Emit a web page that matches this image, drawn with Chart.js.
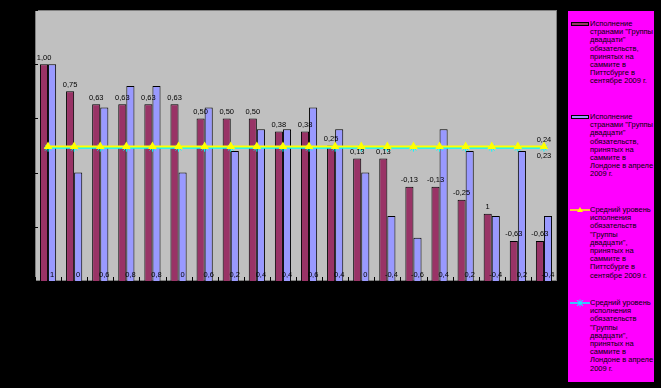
<!DOCTYPE html>
<html>
<head>
<meta charset="utf-8">
<script src="https://cdn.jsdelivr.net/npm/chart.js@4"></script>
<style>
  body { margin: 0; background: #000; }
  #wrap { position: relative; width: 661px; height: 388px; background: #000; }
  #legend {
    position: absolute; left: 568px; top: 11px; width: 86px; height: 371px;
    background: #ff00ff; font: 7.5px "Liberation Sans", Arial, sans-serif; color: #000;
  }
  .item { position: absolute; left: 0; width: 86px; }
  .item svg { position: absolute; left: 2px; top: 0; }
  .item .txt { position: absolute; left: 22px; top: 0; line-height: 8.2px; white-space: nowrap; }
</style>
</head>
<body>
<div id="wrap">
  <canvas id="g20Chart" width="661" height="388"></canvas>
  <div id="legend"></div>
</div>
<script>
// 20 categories (axis labels are black on black in the source, so not visible)
const categories = ["1", "2", "3", "4", "5", "6", "7", "8", "9", "10",
                    "11", "12", "13", "14", "15", "16", "17", "18", "19", "20"];

// Pittsburgh summit (September 2009) compliance
const pittsburgh = [1.00, 0.75, 0.63, 0.63, 0.63, 0.63, 0.50, 0.50, 0.50, 0.38,
                    0.38, 0.25, 0.13, 0.13, -0.13, -0.13, -0.25, -0.38, -0.63, -0.63];
const pittsburghLabels = ["1,00", "0,75", "0,63", "0,63", "0,63", "0,63", "0,50", "0,50", "0,50", "0,38",
                          "0,38", "0,25", "0,13", "0,13", "-0,13", "-0,13", "-0,25", "1", "-0,63", "-0,63"];

// London summit (April 2009) compliance
const london = [1, 0, 0.6, 0.8, 0.8, 0, 0.6, 0.2, 0.4, 0.4,
                0.6, 0.4, 0, -0.4, -0.6, 0.4, 0.2, -0.4, 0.2, -0.4];

// averages
const pittsburghAvg = [0.24, 0.24, 0.24, 0.24, 0.24, 0.24, 0.24, 0.24, 0.24, 0.24,
                       0.24, 0.24, 0.24, 0.24, 0.24, 0.24, 0.24, 0.24, 0.24, 0.24];
const londonAvg = [0.23, 0.23, 0.23, 0.23, 0.23, 0.23, 0.23, 0.23, 0.23, 0.23,
                   0.23, 0.23, 0.23, 0.23, 0.23, 0.23, 0.23, 0.23, 0.23, 0.23];

const yTicks = [-1, -0.5, 0, 0.5, 1, 1.5];

const legendItems = [
  { kind: "bar", color: "#993366",
    lines: ["Исполнение", "странами \"Группы", "двадцати\"", "обязательств,", "принятых на", "саммите в", "Питтсбурге в", "сентябре 2009 г."] },
  { kind: "bar", color: "#9999ff",
    lines: ["Исполнение", "странами \"Группы", "двадцати\"", "обязательств,", "принятых на", "саммите в", "Лондоне в апреле", "2009 г."] },
  { kind: "tri", color: "#ffff00",
    lines: ["Средний уровень", "исполнения", "обязательств", "\"Группы", "двадцати\",", "принятых на", "саммите в", "Питтсбурге в", "сентябре 2009 г."] },
  { kind: "star", color: "#00ffff",
    lines: ["Средний уровень", "исполнения", "обязательств", "\"Группы", "двадцати\",", "принятых на", "саммите в", "Лондоне в апреле", "2009 г."] }
];
const legendTops = [9, 102, 195, 288];

const fmt = (v) => String(v).replace(".", ",");
const FONT = "7.5px 'Liberation Sans', Arial, sans-serif";

const plotBackground = {
  id: "plotBackground",
  beforeDraw(chart) {
    const { ctx, chartArea: a } = chart;
    ctx.save();
    ctx.fillStyle = "#000";
    ctx.fillRect(0, 0, chart.width, chart.height);
    ctx.fillStyle = "#c0c0c0";
    ctx.fillRect(a.left, a.top, a.right - a.left, a.bottom - a.top);
    ctx.strokeStyle = "#808080";
    ctx.lineWidth = 1;
    ctx.strokeRect(a.left + 0.5, a.top + 0.5, a.right - a.left - 1, a.bottom - a.top - 1);
    ctx.restore();
  }
};

const marksAndLabels = {
  id: "marksAndLabels",
  afterDraw(chart) {
    const { ctx, chartArea: a } = chart;
    const x = chart.scales.x, y = chart.scales.y;
    ctx.save();
    // inside tick marks
    ctx.strokeStyle = "#000";
    ctx.lineWidth = 1;
    ctx.beginPath();
    yTicks.forEach((t) => {
      const py = Math.round(y.getPixelForValue(t)) + 0.5;
      ctx.moveTo(a.left, py); ctx.lineTo(a.left + 3, py);
    });
    for (let i = 0; i <= categories.length; i++) {
      const px = Math.round(x.getPixelForValue(i - 0.5)) + 0.5;
      ctx.moveTo(px, a.bottom); ctx.lineTo(px, a.bottom - 4);
    }
    ctx.stroke();

    ctx.font = FONT;
    ctx.fillStyle = "#000";
    ctx.textAlign = "center";
    // maroon labels above bars
    chart.getDatasetMeta(0).data.forEach((bar, i) => {
      ctx.textBaseline = "bottom";
      ctx.fillText(pittsburghLabels[i], bar.x, bar.y - 3);
    });
    // blue labels near the base
    chart.getDatasetMeta(1).data.forEach((bar, i) => {
      ctx.textBaseline = "bottom";
      ctx.fillText(fmt(london[i]), bar.x, a.bottom - 2);
    });
    // average labels on last point
    const last = categories.length - 1;
    const py = chart.getDatasetMeta(2).data[last];
    ctx.textBaseline = "bottom";
    ctx.fillText(fmt(pittsburghAvg[last]), py.x, py.y - 3);
    const pl = chart.getDatasetMeta(3).data[last];
    ctx.textBaseline = "top";
    ctx.fillText(fmt(londonAvg[last]), pl.x, pl.y + 5);
    ctx.restore();
  }
};

new Chart(document.getElementById("g20Chart").getContext("2d"), {
  type: "bar",
  data: {
    labels: categories,
    datasets: [
      {
        type: "bar", label: legendItems[0].lines.join(" "), data: pittsburgh, base: -1,
        backgroundColor: "#993366", borderColor: "#000", borderWidth: 1,
        categoryPercentage: 0.62, barPercentage: 1, order: 2
      },
      {
        type: "bar", label: legendItems[1].lines.join(" "), data: london, base: -1,
        backgroundColor: "#9999ff", borderColor: "#000", borderWidth: 1,
        categoryPercentage: 0.62, barPercentage: 1, order: 2
      },
      {
        type: "line", label: legendItems[2].lines.join(" "), data: pittsburghAvg,
        borderColor: "#ffff00", borderWidth: 2, pointStyle: "triangle", pointRadius: 3,
        pointBackgroundColor: "#ffff00", pointBorderColor: "#ffff00", order: 0
      },
      {
        type: "line", label: legendItems[3].lines.join(" "), data: londonAvg,
        borderColor: "#00ffff", borderWidth: 2, pointStyle: "star", pointRadius: 4,
        pointBorderColor: "#00ffff", pointBorderWidth: 1, order: 1
      }
    ]
  },
  options: {
    responsive: false,
    animation: false,
    layout: { padding: { left: 35, top: 10, right: 104, bottom: 107 } },
    plugins: { legend: { display: false }, tooltip: { enabled: false } },
    scales: {
      x: { display: false, offset: true },
      y: { display: false, min: -1, max: 1.5, ticks: { stepSize: 0.5 } }
    }
  },
  plugins: [plotBackground, marksAndLabels]
});

// HTML legend (wrapped text)
const legendEl = document.getElementById("legend");
legendItems.forEach((item, i) => {
  const div = document.createElement("div");
  div.className = "item";
  div.style.top = legendTops[i] + "px";
  let icon;
  if (item.kind === "bar") {
    icon = `<svg width="20" height="8"><rect x="1.5" y="2.5" width="17" height="3" fill="${item.color}" stroke="#000"/></svg>`;
  } else if (item.kind === "tri") {
    icon = `<svg width="20" height="8"><line x1="0" y1="4" x2="20" y2="4" stroke="${item.color}" stroke-width="1.5"/><polygon points="10,1 13,6 7,6" fill="${item.color}"/></svg>`;
  } else {
    icon = `<svg width="20" height="8"><line x1="0" y1="4" x2="20" y2="4" stroke="${item.color}" stroke-width="1.5"/><path d="M7,1 L13,7 M13,1 L7,7 M10,0.5 L10,7.5" stroke="${item.color}" stroke-width="1"/></svg>`;
  }
  div.innerHTML = icon + `<div class="txt">${item.lines.join("<br>")}</div>`;
  legendEl.appendChild(div);
});
</script>
</body>
</html>
